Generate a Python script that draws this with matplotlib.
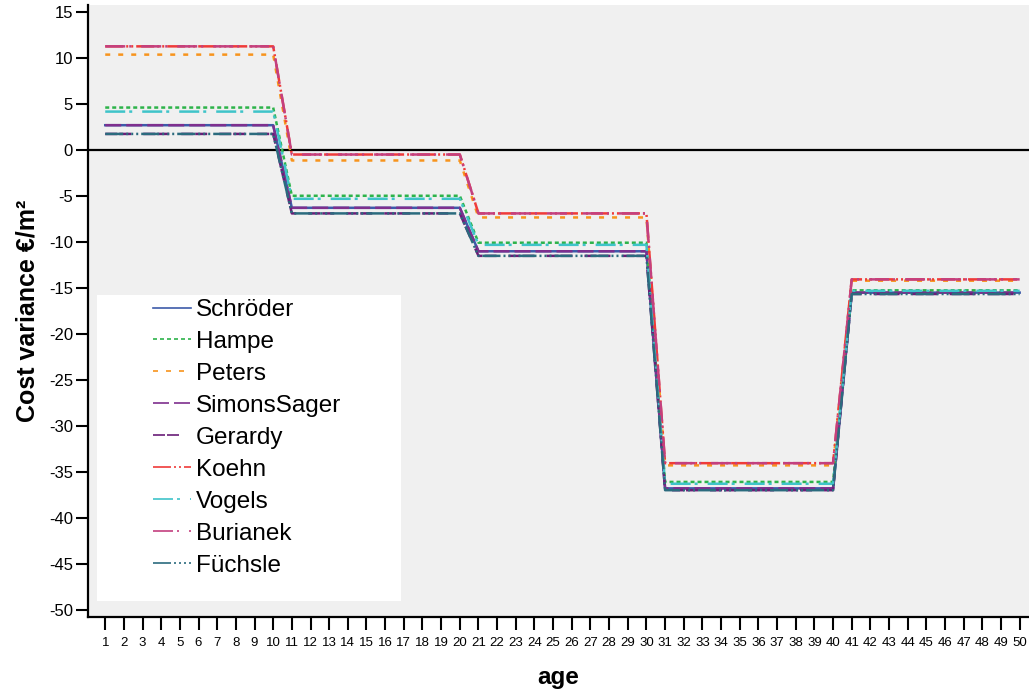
import numpy as np
import matplotlib
matplotlib.use("Agg")
import matplotlib.pyplot as plt
from matplotlib.lines import Line2D
from matplotlib.patches import Rectangle

plt.rcParams['font.family'] = ['Liberation Sans', 'DejaVu Sans']
plt.rcParams['lines.scale_dashes'] = False

# ---- data (values read per 10-year block, constant within each block) ----
ages = np.arange(1, 51)
block_size = 10
series_names = ["Schröder", "Hampe", "Peters", "SimonsSager", "Gerardy",
                "Koehn", "Vogels", "Burianek", "Füchsle"]
schroeder   = [2.72, -6.27, -11.0, -36.8, -15.5]
hampe       = [4.64, -4.96, -10.07, -36.1, -15.25]
peters      = [10.4, -1.12, -7.32, -34.3, -14.2]
simonssager = [2.72, -6.27, -11.0, -36.8, -15.5]
gerardy     = [1.77, -6.88, -11.5, -37.0, -15.65]
koehn       = [11.3, -0.47, -6.88, -34.06, -14.06]
vogels      = [4.2, -5.29, -10.3, -36.3, -15.3]
burianek    = [11.3, -0.47, -6.88, -34.06, -14.06]
fuechsle    = [1.77, -6.88, -11.5, -37.0, -15.65]
blocks = [schroeder, hampe, peters, simonssager, gerardy,
          koehn, vogels, burianek, fuechsle]
yticks = list(range(-50, 16, 5))

# ---- styles ----
px = 1 / 1.389  # pixel -> point at 100 dpi
colors = ["#3D5BA9", "#2DB34A", "#F7941D", "#7E2F8E", "#6A1E78",
          "#EF3B39", "#3FC4C9", "#C3407F", "#2B6B7E"]
dashes = [
    None,
    (0, (4 * px, 3 * px)),
    (0, (5 * px, 8 * px)),
    (0, (16 * px, 5 * px)),
    (0, (12 * px, 2 * px, 12 * px, 12 * px)),
    (0, (18 * px, 3 * px, 2 * px, 3 * px, 2 * px, 3 * px)),
    (0, (20 * px, 4 * px, 3 * px, 10 * px)),
    (0, (20 * px, 4 * px, 2 * px, 10 * px)),
    (0, (18 * px, 3 * px, 2 * px, 3 * px, 2 * px, 3 * px, 2 * px, 3 * px)),
]

fig = plt.figure(figsize=(10.29, 6.90), dpi=100)
W, H = 1029, 690
ax = fig.add_axes([87.5 / W, (H - 617) / H, 1 - 87.5 / W, (617 - 5) / H])
ax.set_facecolor("#F0F0F0")

ax.axhline(0, color="black", lw=1.6, zorder=1)

handles = []
for name, b, c, d in zip(series_names, blocks, colors, dashes):
    y = np.repeat(b, block_size)
    ls = '-' if d is None else d
    ax.plot(ages, y, color=c, linestyle=ls, lw=1.8, zorder=2)
    handles.append(Line2D([], [], color=c, linestyle=ls, lw=1.2))

ax.set_xlim(0.05, 50.5)
ax.set_ylim(-50.8, 15.8)
ax.set_xticks(ages)
ax.set_xticklabels([str(a) for a in ages], fontsize=9.5)
ax.set_yticks(yticks)
ax.set_yticklabels([str(v) for v in yticks], fontsize=12)
ax.tick_params(axis='x', length=9.5, width=1.5, pad=5)
ax.tick_params(axis='y', length=8.5, width=1.5, pad=2)
for s in ["top", "right"]:
    ax.spines[s].set_visible(False)
for s in ["left", "bottom"]:
    ax.spines[s].set_linewidth(1.6)

ax.set_xlabel("age", fontsize=17.5, fontweight="bold", labelpad=12)
ax.set_ylabel("Cost variance €/m²", fontsize=18, fontweight="bold", labelpad=7)

# legend background box
fig.patches.append(Rectangle((97 / W, (H - 601) / H), (401 - 97) / W, (601 - 295) / H,
                             transform=fig.transFigure, facecolor="white",
                             edgecolor="none", zorder=3))
leg = fig.legend(handles, series_names, loc="upper left",
                 bbox_to_anchor=(153 / W, (H - 299) / H),
                 frameon=False, fontsize=17.5, borderpad=0, borderaxespad=0,
                 handlelength=1.55, handletextpad=0.22, labelspacing=0.41)
leg.set_zorder(4)

fig.savefig("out.png", dpi=100)
